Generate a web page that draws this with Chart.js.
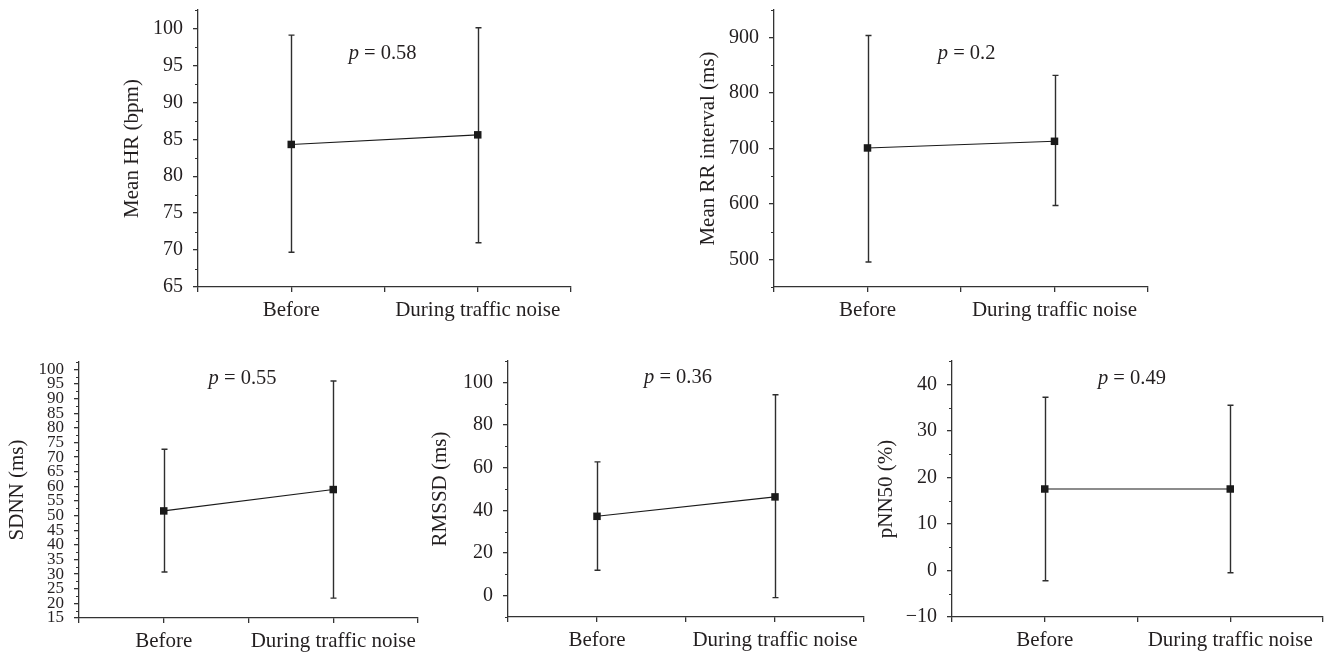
<!DOCTYPE html>
<html><head><meta charset="utf-8">
<script src="https://cdn.jsdelivr.net/npm/chart.js@4.4.1/dist/chart.umd.min.js"></script>
<style>
html,body{margin:0;padding:0;background:#fff;width:1330px;height:656px;overflow:hidden;position:relative}
canvas{position:absolute}
</style></head><body>
<canvas id="c1"></canvas><canvas id="c2"></canvas><canvas id="c3"></canvas><canvas id="c4"></canvas><canvas id="c5"></canvas>
<script>
// ---- data ----
const categories = ['Before', 'During traffic noise'];

const hrMean = [84.3, 85.6];
const hrLow  = [69.7, 71.0];
const hrHigh = [99.1, 100.1];
const hrTicks = [65, 70, 75, 80, 85, 90, 95, 100];

const rrMean = [701, 713];
const rrLow  = [495, 597];
const rrHigh = [904, 832];
const rrTicks = [500, 600, 700, 800, 900];

const sdnnMean = [51.6, 58.9];
const sdnnLow  = [30.7, 21.8];
const sdnnHigh = [72.7, 96.0];
const sdnnTicks = [15, 20, 25, 30, 35, 40, 45, 50, 55, 60, 65, 70, 75, 80, 85, 90, 95, 100];

const rmssdMean = [37.2, 46.3];
const rmssdLow  = [11.9, -0.9];
const rmssdHigh = [62.7, 94.2];
const rmssdTicks = [0, 20, 40, 60, 80, 100];

const pnnMean = [17.5, 17.5];
const pnnLow  = [-2.2, -0.5];
const pnnHigh = [37.2, 35.5];
const pnnTicks = [-10, 0, 10, 20, 30, 40];

const pValues = ['0.58', '0.2', '0.55', '0.36', '0.49'];
const yTitles = ['Mean HR (bpm)', 'Mean RR interval (ms)', 'SDNN (ms)', 'RMSSD (ms)', 'pNN50 (%)'];

// ---- styling / layout ----
const SERIF = '"Liberation Serif", "Times New Roman", serif';
const TEXT = '#231f20';
const AXIS = '#333333';
const TITLE_SIZE = 21;

const decor = {
  id: 'hrvDecor',
  beforeDatasetsDraw(chart, args, o) {
    const ctx = chart.ctx, xs = chart.scales.x, ys = chart.scales.y;
    ctx.save();
    ctx.strokeStyle = o.barColor; ctx.lineWidth = o.barWidth;
    o.lower.forEach((lo, i) => {
      const x = Math.round(xs.getPixelForValue(i + 0.5)) + 0.5;
      const y1 = ys.getPixelForValue(lo), y2 = ys.getPixelForValue(o.upper[i]);
      ctx.beginPath();
      ctx.moveTo(x, y1); ctx.lineTo(x, y2);
      ctx.moveTo(x - o.cap, y1); ctx.lineTo(x + o.cap, y1);
      ctx.moveTo(x - o.cap, y2); ctx.lineTo(x + o.cap, y2);
      ctx.stroke();
    });
    ctx.restore();
  },
  afterDraw(chart, args, o) {
    const ctx = chart.ctx, xs = chart.scales.x, ys = chart.scales.y;
    const majors = ys.ticks.map(t => t.value);
    const minors = [];
    for (let i = 0; i < majors.length - 1; i++) minors.push((majors[i] + majors[i + 1]) / 2);
    if (!majors.includes(ys.min)) minors.push(ys.min);
    if (!majors.includes(ys.max)) minors.push(ys.max);
    const xa = chart.chartArea.left;
    ctx.save();
    ctx.strokeStyle = AXIS; ctx.lineWidth = 1.2;
    ctx.beginPath();
    minors.forEach(v => {
      const y = Math.round(ys.getPixelForValue(v)) + 0.5;
      ctx.moveTo(xa - 3, y); ctx.lineTo(xa, y);
    });
    ctx.stroke();
    // p-value annotation
    const px = xs.getPixelForValue(o.pAt[0]);
    const py = ys.getPixelForValue(o.pAt[1]);
    ctx.fillStyle = TEXT;
    ctx.textBaseline = 'middle';
    ctx.textAlign = 'left';
    const italic = 'italic ' + o.pSize + 'px ' + SERIF;
    const normal = o.pSize + 'px ' + SERIF;
    ctx.font = italic; const w1 = ctx.measureText('p').width;
    const rest = ' = ' + o.pText;
    ctx.font = normal; const w2 = ctx.measureText(rest).width;
    let x0 = px - (w1 + w2) / 2;
    ctx.font = italic; ctx.fillText('p', x0, py);
    ctx.font = normal; ctx.fillText(rest, x0 + w1, py);
    ctx.restore();
  }
};

function fmt(v) { return v < 0 ? '\u2212' + Math.abs(v) : String(v); }

function makeChart(id, panel, cfg) {
  const cv = document.getElementById(id);
  cv.width = panel.w; cv.height = panel.h;
  cv.style.left = panel.x + 'px'; cv.style.top = panel.y + 'px';
  cv.style.width = panel.w + 'px'; cv.style.height = panel.h + 'px';
  const padLeft = Math.max(0, panel.titleX - (TITLE_SIZE * 1.2 / 2 + 4) - panel.x);
  const xTickVals = [];
  for (let i = 0; i <= categories.length * 2; i++) xTickVals.push(i / 2);
  return new Chart(cv, {
    type: 'line',
    data: {
      datasets: [{
        data: cfg.mean.map((v, i) => ({ x: i + 0.5, y: v })),
        borderColor: '#1a1a1a', borderWidth: 1.1,
        pointStyle: 'rect', pointRadius: 5.3, pointHoverRadius: 5.3,
        pointBackgroundColor: '#1a1a1a', pointBorderWidth: 0,
        tension: 0
      }]
    },
    options: {
      responsive: false, animation: false, devicePixelRatio: 1, events: [],
      layout: { padding: { left: padLeft, top: panel.t - panel.y, right: panel.x + panel.w - panel.r, bottom: 0 } },
      plugins: {
        legend: { display: false }, tooltip: { enabled: false },
        hrvDecor: { lower: cfg.low, upper: cfg.high, barColor: '#2e2e2e', barWidth: 1.4, cap: 3,
                    pText: cfg.p, pAt: cfg.pAt, pSize: 20.5 }
      },
      scales: {
        x: {
          type: 'linear', min: 0, max: categories.length,
          afterBuildTicks: ax => { ax.ticks = xTickVals.map(v => ({ value: v })); },
          afterFit: ax => { ax.height = panel.y + panel.h - panel.b; },
          grid: { drawOnChartArea: false, drawTicks: true, tickLength: 5, color: AXIS, lineWidth: 1.3 },
          border: { color: AXIS, width: 1.3 },
          ticks: {
            autoSkip: false, maxRotation: 0, minRotation: 0, padding: 6, color: TEXT,
            font: { family: SERIF, size: 21 },
            callback: v => { const k = v - 0.5; return Number.isInteger(k) ? categories[k] : ''; }
          }
        },
        y: {
          type: 'linear', min: cfg.min, max: cfg.max,
          afterBuildTicks: ax => { ax.ticks = cfg.ticks.map(v => ({ value: v })); },
          afterFit: ax => { ax.width = panel.l - panel.x - padLeft; },
          grid: { drawOnChartArea: false, drawTicks: true, tickLength: 5, color: AXIS, lineWidth: 1.3 },
          border: { color: AXIS, width: 1.3 },
          ticks: {
            autoSkip: false, padding: 10, color: TEXT,
            font: { family: SERIF, size: cfg.tickSize },
            callback: v => fmt(v)
          },
          title: { display: true, text: cfg.title, color: TEXT, font: { family: SERIF, size: TITLE_SIZE }, padding: { top: 4, bottom: 4 } }
        }
      }
    },
    plugins: [decor]
  });
}

makeChart('c1', { x: 0, y: -12, w: 640, h: 340, l: 198, t: 8, r: 571, b: 287, titleX: 132 },
  { mean: hrMean, low: hrLow, high: hrHigh, ticks: hrTicks, min: 65, max: 102.5, tickSize: 20,
    title: yTitles[0], p: pValues[0], pAt: [0.99, 96.6] });
makeChart('c2', { x: 640, y: -12, w: 690, h: 340, l: 774, t: 8, r: 1148, b: 287, titleX: 708 },
  { mean: rrMean, low: rrLow, high: rrHigh, ticks: rrTicks, min: 450, max: 950, tickSize: 20,
    title: yTitles[1], p: pValues[1], pAt: [1.03, 871] });
makeChart('c3', { x: 0, y: 330, w: 424, h: 326, l: 79, t: 362, r: 422, b: 618, titleX: 17 },
  { mean: sdnnMean, low: sdnnLow, high: sdnnHigh, ticks: sdnnTicks, min: 15, max: 102.5, tickSize: 17,
    title: yTitles[2], p: pValues[2], pAt: [0.965, 96.9] });
makeChart('c4', { x: 424, y: 330, w: 446, h: 326, l: 508, t: 361, r: 866, b: 617, titleX: 440 },
  { mean: rmssdMean, low: rmssdLow, high: rmssdHigh, ticks: rmssdTicks, min: -10, max: 110, tickSize: 20,
    title: yTitles[3], p: pValues[3], pAt: [0.955, 102] });
makeChart('c5', { x: 870, y: 330, w: 460, h: 326, l: 952, t: 361, r: 1323, b: 617, titleX: 886 },
  { mean: pnnMean, low: pnnLow, high: pnnHigh, ticks: pnnTicks, min: -10, max: 45, tickSize: 20,
    title: yTitles[4], p: pValues[4], pAt: [0.97, 41.3] });
</script>
</body></html>
